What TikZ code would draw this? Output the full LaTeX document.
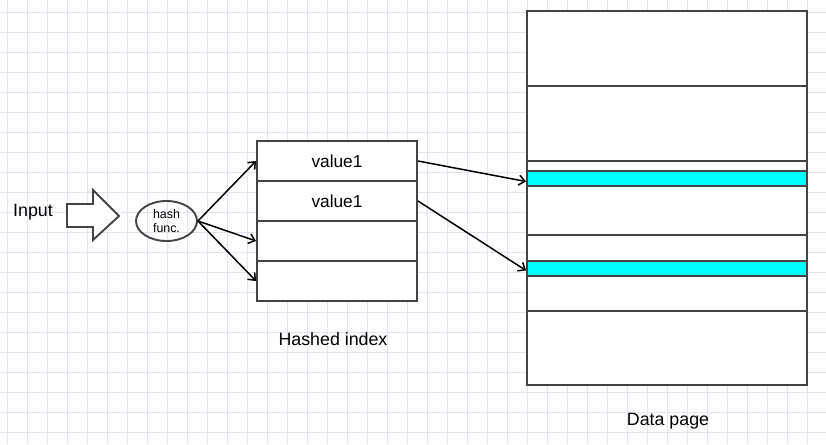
\documentclass[tikz,border=0pt]{standalone}
\usepackage{fontspec}
\setmainfont{Liberation Sans}
\usetikzlibrary{arrows.meta}
\usetikzlibrary{shapes.geometric}
\usetikzlibrary{positioning}
\definecolor{gridcol}{RGB}{228,228,240}
\definecolor{boxcol}{RGB}{68,68,68}
\definecolor{hitcol}{RGB}{0,255,255}
\tikzset{x=1pt, y=-1pt,
gridline/.style={ % Background grid lines
draw=gridcol, line width=0.8pt},
cell/.style={ % Sets the properties for each box row
draw=boxcol, line width=1.9pt, fill=white,
rectangle, inner sep=0pt},
idxcell/.style={cell, minimum width=160pt, minimum height=40pt,
font=\fontsize{17.3}{20}\selectfont},
pagecell/.style={cell, minimum width=280pt},
captext/.style={font=\fontsize{17.8}{21}\selectfont},
link/.style={ % Sets the properties for each connector
draw, line width=1.5pt, -{Straight Barb[length=6pt,width=10pt,line width=1.5pt]}}}

\begin{document}
\begin{tikzpicture}
\useasboundingbox (0,0) rectangle (826,444);
\fill[white] (0,0) rectangle (826,444);
% grid
\foreach \gx in {7,27,...,827} \draw[gridline] (\gx,0) -- (\gx,444);
\foreach \gy in {12,32,...,444} \draw[gridline] (0,\gy) -- (826,\gy);

% input side
\node[captext] (input) at (33,212) {Input};
\draw[boxcol, line width=1.9pt, fill=white, line join=miter]
  (67,204) -- (93,204) -- (93,190) -- (119,216) -- (93,240) -- (93,227) -- (67,227) -- cycle;
\node[draw=boxcol, line width=1.9pt, ellipse, minimum width=61pt, minimum height=40pt, inner sep=0pt,
  align=center, font=\fontsize{12.4}{14.5}\selectfont] (hash) at (166.5,221) {hash\\func.};

% hashed index
\node[idxcell] (row1) at (337,161) {value1};
\node[idxcell] (row2) at (337,201) {value1};
\node[idxcell] (row3) at (337,241) {};
\node[idxcell] (row4) at (337,281) {};
\node[captext] (idxname) at (333,339) {Hashed index};

% data page
\node[pagecell, minimum height=75pt] (pg1) at (667,48.5) {};
\node[pagecell, minimum height=75pt] (pg2) at (667,123.5) {};
\node[pagecell, minimum height=10pt] (pg3) at (667,166) {};
\node[pagecell, minimum height=15pt, fill=hitcol] (hit1) at (667,178.5) {};
\node[pagecell, minimum height=49pt] (pg5) at (667,210.5) {};
\node[pagecell, minimum height=26pt] (pg6) at (667,248) {};
\node[pagecell, minimum height=15pt, fill=hitcol] (hit2) at (667,268.5) {};
\node[pagecell, minimum height=35pt] (pg8) at (667,293.5) {};
\node[pagecell, minimum height=74pt] (pg9) at (667,348) {};
\node[captext] (pagename) at (668,421) {Data page};

% connectors
\draw[link] (hash.east) -- (row1.west);
\draw[link] (hash.east) -- (row3.west);
\draw[link] (hash.east) -- (row4.west);
\draw[link] (row1.east) -- ([yshift=-3pt]hit1.west);
\draw[link] (row2.east) -- ([yshift=-2pt]hit2.west);
\end{tikzpicture}
\end{document}
